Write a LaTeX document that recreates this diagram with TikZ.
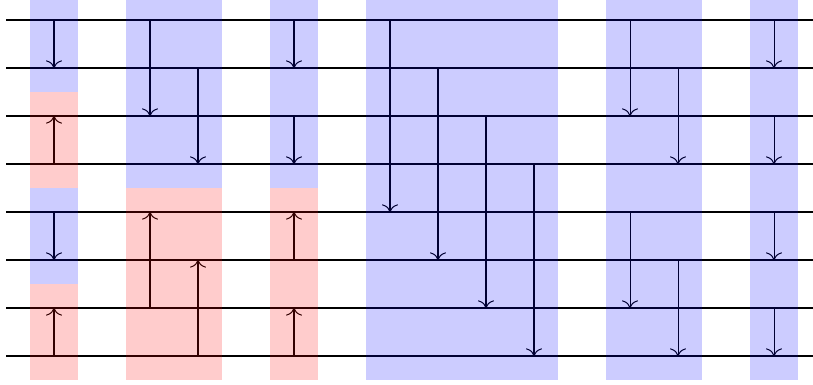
\documentclass[tikz,border=0pt]{standalone}
\usepackage{tikz}
\usetikzlibrary{arrows.meta}
\usepackage{xcolor}

\begin{document}
\begin{tikzpicture}[scale=0.5, line width=0.3pt]
\useasboundingbox (-0.125,0.4167) rectangle (16.8125,-7.6042);
% wires
\foreach \k in {0,...,7} {
    \coordinate (w\k) at (0,-\k);
    \coordinate (e\k) at (16.8125,-\k);
    \draw (w\k) -- (e\k);
}
\foreach \x in {1,3,4,6,8,9,10,11,13,14,16}
    \coordinate (c\x) at (\x,0);
% comparators: column/from/to
\foreach \x/\a/\b in {1/0/1, 1/3/2, 1/4/5, 1/7/6,
    3/0/2, 4/1/3, 3/6/4, 4/7/5,
    6/0/1, 6/2/3, 6/5/4, 6/7/6,
    8/0/4, 9/1/5, 10/2/6, 11/3/7,
    13/0/2, 14/1/3, 13/4/6, 14/5/7,
    16/0/1, 16/2/3, 16/4/5, 16/6/7}
    \draw[->] (c\x |- w\a) -- (c\x |- w\b);
% stages
\foreach \l/\r/\t/\b/\col in {0.5/1.5/0/1/blue, 0.5/1.5/2/3/red, 0.5/1.5/4/5/blue, 0.5/1.5/6/7/red,
    2.5/4.5/0/3/blue, 2.5/4.5/4/7/red,
    5.5/6.5/0/3/blue, 5.5/6.5/4/7/red,
    7.5/11.5/0/7/blue, 12.5/14.5/0/7/blue, 15.5/16.5/0/7/blue}
    \fill[\col, fill opacity=0.2] ({\l},{0.5-\t}) rectangle ({\r},{-0.5-\b});
\end{tikzpicture}
\end{document}
